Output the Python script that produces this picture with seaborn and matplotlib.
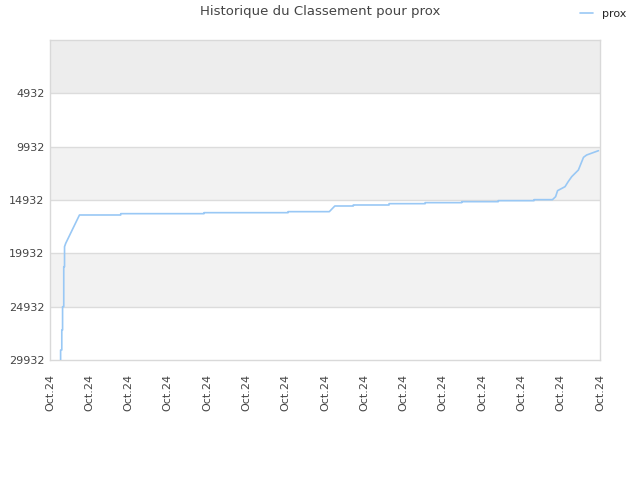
import pandas as pd
import numpy as np
import matplotlib
matplotlib.use("Agg")
import matplotlib.pyplot as plt
import seaborn as sns

# Données (x en unités de graduation, rang)
temps = [0.27, 0.27, 0.30, 0.30, 0.32, 0.32, 0.35, 0.35, 0.37, 0.37, 0.40, 0.75,
         1.80, 1.80, 3.92, 3.92, 6.06, 6.06, 7.11, 7.25, 7.72, 7.72, 8.63, 8.63,
         9.55, 9.55, 10.48, 10.48, 11.41, 11.41, 12.32, 12.32, 12.79, 12.87, 12.92,
         13.11, 13.19, 13.28, 13.45, 13.58, 13.66, 13.96]
rang = [29932, 28994, 28994, 27120, 27120, 24932, 24932, 21187, 21187, 19312, 18995, 16338,
        16338, 16213, 16213, 16120, 16120, 16025, 16025, 15494, 15494, 15400, 15400, 15275,
        15275, 15181, 15181, 15088, 15088, 14994, 14994, 14900, 14900, 14620, 14057,
        13682, 13213, 12744, 12120, 10931, 10713, 10310]
yticks = [4932, 9932, 14932, 19932, 24932, 29932]
xtick_labels = ["Oct.24"] * 15

df = pd.DataFrame({"temps": temps, "rang": rang})

sns.set_style("white")
fig = plt.figure(figsize=(6.4, 4.8), dpi=100)
ax = fig.add_axes([50 / 640, 120 / 480, 550 / 640, 320 / 480])

# bandes de fond
ax.axhspan(-68, 4932, color="#ededed", zorder=0, lw=0)
ax.axhspan(9932, 14932, color="#f2f2f2", zorder=0, lw=0)
ax.axhspan(19932, 24932, color="#f2f2f2", zorder=0, lw=0)
for v in yticks[:-1]:
    ax.axhline(v, color="#dcdcdc", lw=1, zorder=1)

sns.lineplot(data=df, x="temps", y="rang", sort=False, estimator=None,
             color="#99c8f5", linewidth=1.2, ax=ax, label="prox", zorder=3)

ax.set_xlim(0, 14)
ax.set_ylim(29932, -68)
ax.set_yticks(yticks)
ax.set_yticklabels([str(v) for v in yticks], fontsize=8, color="#444444")
ax.set_xticks(range(15))
ax.set_xticklabels(xtick_labels, rotation=90, fontsize=8, color="#444444")
ax.tick_params(axis="y", length=0, pad=4)
ax.tick_params(axis="x", length=0, pad=10)
ax.set_xlabel("")
ax.set_ylabel("")
for s in ax.spines.values():
    s.set_color("#d9d9d9")
    s.set_linewidth(1)

ax.legend(loc="center left", bbox_to_anchor=(570 / 640, 1 - 14 / 480),
          bbox_transform=fig.transFigure, frameon=False, fontsize=8,
          handlelength=1.2, handletextpad=0.8)

fig.text(0.5, 1 - 12 / 480, "Historique du Classement pour prox", ha="center",
         va="center", fontsize=9.5, color="#444444")

fig.savefig("out.png", dpi=100)
